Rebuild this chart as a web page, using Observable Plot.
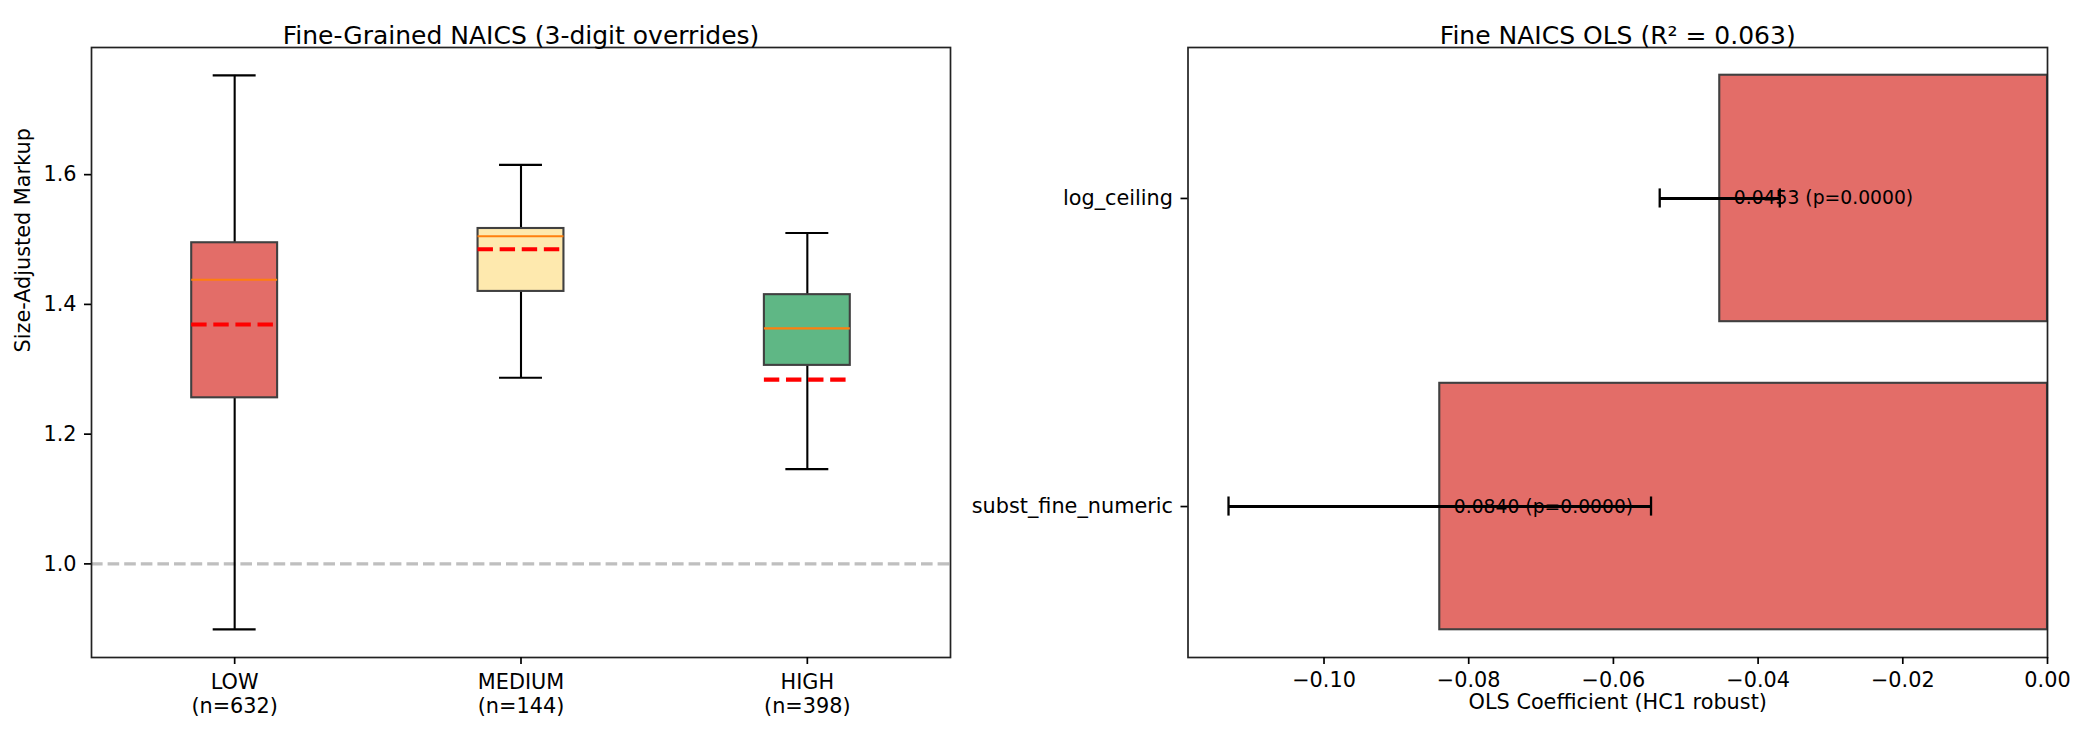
<!DOCTYPE html>
<html>
<head>
<meta charset="utf-8">
<script src="https://cdn.jsdelivr.net/npm/d3@7"></script>
<script src="https://cdn.jsdelivr.net/npm/@observablehq/plot@0.6"></script>
<style>
  html, body { margin: 0; padding: 0; background: white; }
  #wrap { display: flex; width: 2085px; height: 735px; }
  #wrap svg { overflow: visible; }
</style>
</head>
<body>
<div id="wrap"><div id="left"></div><div id="right"></div></div>
<script>
// ---- Left panel data (box plot) ----
const groups = ["LOW", "MEDIUM", "HIGH"];
const counts = [632, 144, 398];
const whiskerLow = [0.899, 1.287, 1.146];
const q1 = [1.256, 1.420, 1.306];
const medians = [1.438, 1.505, 1.363];
const q3 = [1.495, 1.517, 1.415];
const whiskerHigh = [1.753, 1.615, 1.510];
const means = [1.369, 1.485, 1.284];
const yTicksLeft = [1.0, 1.2, 1.4, 1.6];
const referenceLine = [1.0];

// ---- Right panel data (OLS coefficients) ----
const terms = ["subst_fine_numeric", "log_ceiling"];
const coefs = [-0.0840, -0.0453];
const errs = [0.0292, 0.0083];
const pvals = [0.0000, 0.0000];
const xTicksRight = [-0.10, -0.08, -0.06, -0.04, -0.02, 0.00];

// styles
const boxColors = ["#e36d68", "#fee9ae", "#5fb785"];
const barColor = "#e36d68";
const edgeColor = "#404040";
const FONT = "DejaVu Sans";

const boxData = groups.map((g, i) => ({
  pos: i + 1,
  label: `${g}\n(n=${counts[i]})`,
  lo: whiskerLow[i], q1: q1[i], med: medians[i], q3: q3[i], hi: whiskerHigh[i],
  mean: means[i], color: boxColors[i]
}));
const xLabels = boxData.map(d => d.label);

const left = Plot.plot({
  width: 960, height: 735,
  marginLeft: 91, marginRight: 10, marginTop: 47, marginBottom: 78,
  style: { fontFamily: FONT, fontSize: "20.8px", background: "white", color: "black" },
  x: { domain: [0.5, 3.5] },
  y: { domain: [0.8557, 1.796] },
  color: { type: "identity" },
  marks: [
    Plot.ruleY(referenceLine, { y: d => d, stroke: "#bfbfbf", strokeWidth: 3.1, strokeDasharray: "11.6,5" }),
    Plot.ruleX(boxData, { x: "pos", y1: "lo", y2: "q1", stroke: "black", strokeWidth: 2.1 }),
    Plot.ruleX(boxData, { x: "pos", y1: "q3", y2: "hi", stroke: "black", strokeWidth: 2.1 }),
    Plot.ruleY(boxData, { y: "lo", x1: d => d.pos - 0.075, x2: d => d.pos + 0.075, stroke: "black", strokeWidth: 2.1 }),
    Plot.ruleY(boxData, { y: "hi", x1: d => d.pos - 0.075, x2: d => d.pos + 0.075, stroke: "black", strokeWidth: 2.1 }),
    Plot.rect(boxData, { x1: d => d.pos - 0.15, x2: d => d.pos + 0.15, y1: "q1", y2: "q3", fill: "color", stroke: edgeColor, strokeWidth: 2.1 }),
    Plot.ruleY(boxData, { y: "med", x1: d => d.pos - 0.15, x2: d => d.pos + 0.15, stroke: "#ff7f0e", strokeWidth: 2.1 }),
    Plot.ruleY(boxData, { y: "mean", x1: d => d.pos - 0.15, x2: d => d.pos + 0.15, stroke: "#ff0000", strokeWidth: 4.2, strokeDasharray: "15.4,6.7" }),
    Plot.frame({ stroke: "#222", strokeWidth: 1.7 }),
    Plot.axisY({ ticks: yTicksLeft, tickFormat: d3.format(".1f"), tickSize: 7, tickPadding: 8, strokeWidth: 1.7, label: null, fontSize: 20.8 }),
    Plot.axisX({ ticks: [1, 2, 3], tickFormat: d => xLabels[d - 1], tickSize: 7, tickPadding: 8, strokeWidth: 1.7, label: null, fontSize: 20.8, lineHeight: 1.15 }),
    Plot.text(["Size-Adjusted Markup"], { text: d => d, frameAnchor: "left", dx: -68, rotate: -90, fontSize: 20.8 }),
    Plot.text(["Fine-Grained NAICS (3-digit overrides)"], { text: d => d, frameAnchor: "top", dy: -21, fontSize: 25 })
  ]
});
document.getElementById("left").appendChild(left);

const barData = terms.map((t, i) => ({ i, term: t, coef: coefs[i], err: errs[i], p: pvals[i] }));

const right = Plot.plot({
  width: 1125, height: 735,
  marginLeft: 227.5, marginRight: 38, marginTop: 47, marginBottom: 78,
  style: { fontFamily: FONT, fontSize: "20.8px", background: "white", color: "black" },
  x: { domain: [-0.1188, 0] },
  y: { domain: [-0.49, 1.49] },
  marks: [
    Plot.rect(barData, { x1: "coef", x2: () => 0, y1: d => d.i - 0.4, y2: d => d.i + 0.4, fill: barColor, stroke: edgeColor, strokeWidth: 2.1 }),
    Plot.ruleY(barData, { y: "i", x1: d => d.coef - d.err, x2: d => d.coef + d.err, stroke: "black", strokeWidth: 3.1 }),
    Plot.ruleX(barData, { x: d => d.coef - d.err, y1: d => d.i - 0.031, y2: d => d.i + 0.031, stroke: "black", strokeWidth: 2.3 }),
    Plot.ruleX(barData, { x: d => d.coef + d.err, y1: d => d.i - 0.031, y2: d => d.i + 0.031, stroke: "black", strokeWidth: 2.3 }),
    Plot.text(barData, { x: d => d.coef + 0.001, y: "i", text: d => `${d.coef.toFixed(4)} (p=${d.p.toFixed(4)})`, textAnchor: "start", fontSize: 18.75, fill: "black" }),
    Plot.frame({ stroke: "#222", strokeWidth: 1.7 }),
    Plot.axisX({ ticks: xTicksRight, tickFormat: d3.format(".2f"), tickSize: 7, tickPadding: 8, strokeWidth: 1.7, label: null, fontSize: 20.8 }),
    Plot.axisY({ ticks: [0, 1], tickFormat: d => terms[d], tickSize: 7, tickPadding: 8, strokeWidth: 1.7, label: null, fontSize: 20.8 }),
    Plot.text(["OLS Coefficient (HC1 robust)"], { text: d => d, frameAnchor: "bottom", dy: 51, fontSize: 20.8 }),
    Plot.text(["Fine NAICS OLS (R² = 0.063)"], { text: d => d, frameAnchor: "top", dy: -21, fontSize: 25 })
  ]
});
document.getElementById("right").appendChild(right);
</script>
</body>
</html>
